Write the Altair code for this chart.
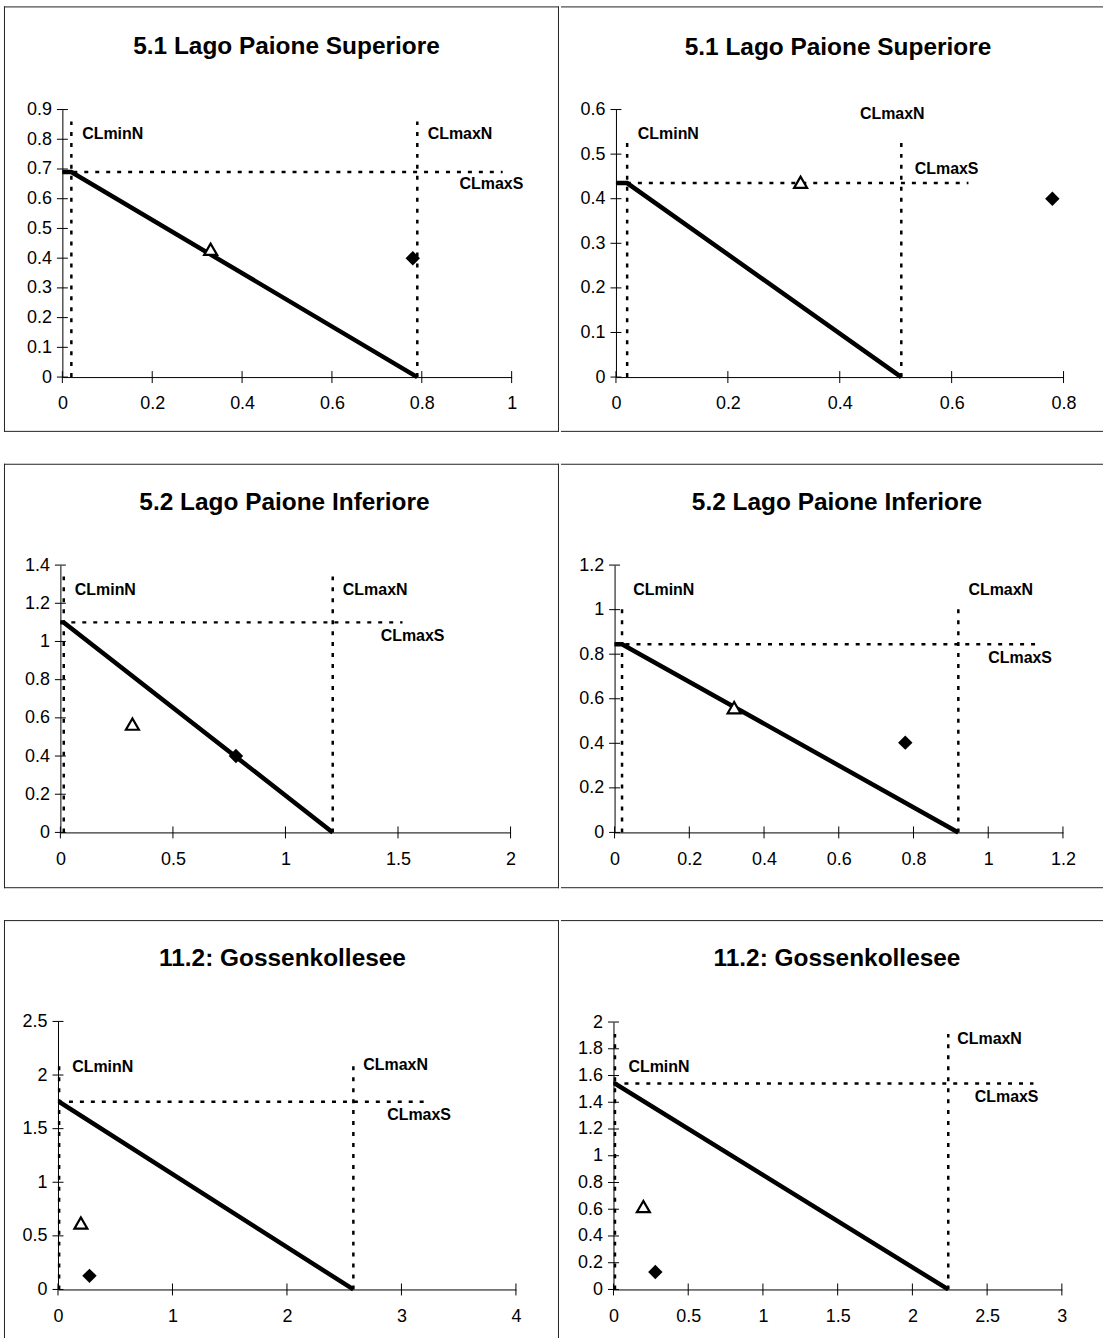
import altair as alt
import pandas as pd

FONT = "Liberation Sans"

# ---- chart content -------------------------------------------------------
titles = [
    "5.1 Lago Paione Superiore",
    "5.1 Lago Paione Superiore",
    "5.2 Lago Paione Inferiore",
    "5.2 Lago Paione Inferiore",
    "11.2: Gossenkollesee",
    "11.2: Gossenkollesee",
]

x_max = [1, 0.8, 2, 1.2, 4, 3]
y_max = [0.9, 0.6, 1.4, 1.2, 2.5, 2]

x_ticks = [
    [0, 0.2, 0.4, 0.6, 0.8, 1],
    [0, 0.2, 0.4, 0.6, 0.8],
    [0, 0.5, 1, 1.5, 2],
    [0, 0.2, 0.4, 0.6, 0.8, 1, 1.2],
    [0, 1, 2, 3, 4],
    [0, 0.5, 1, 1.5, 2, 2.5, 3],
]
y_ticks = [
    [0, 0.1, 0.2, 0.3, 0.4, 0.5, 0.6, 0.7, 0.8, 0.9],
    [0, 0.1, 0.2, 0.3, 0.4, 0.5, 0.6],
    [0, 0.2, 0.4, 0.6, 0.8, 1, 1.2, 1.4],
    [0, 0.2, 0.4, 0.6, 0.8, 1, 1.2],
    [0, 0.5, 1, 1.5, 2, 2.5],
    [0, 0.2, 0.4, 0.6, 0.8, 1, 1.2, 1.4, 1.6, 1.8, 2],
]

# critical loads: minimum N, maximum N, maximum S
cl_min_n = [0.02, 0.02, 0.015, 0.02, 0.01, 0.01]
cl_max_n = [0.79, 0.51, 1.21, 0.92, 2.58, 2.24]
cl_max_s = [0.69, 0.435, 1.10, 0.845, 1.75, 1.54]
# extent of the dotted guide lines
guide_top = [0.86, 0.54, 1.34, 1.015, 2.14, 1.91]
guide_end = [0.98, 0.63, 1.52, 1.135, 3.23, 2.81]

# deposition points (open triangle, filled diamond)
tri_x = [0.33, 0.33, 0.32, 0.32, 0.20, 0.20]
tri_y = [0.43, 0.437, 0.567, 0.56, 0.62, 0.62]
dia_x = [0.78, 0.78, 0.78, 0.778, 0.275, 0.28]
dia_y = [0.40, 0.40, 0.40, 0.403, 0.127, 0.13]

# annotation anchors (data units)
lab_min_n = [(0.044, 0.816), (0.039, 0.545), (0.064, 1.27), (0.05, 1.09), (0.124, 2.076), (0.10, 1.665)]
lab_max_n = [(0.813, 0.819), (0.436, 0.589), (1.255, 1.27), (0.947, 1.09), (2.667, 2.09), (2.30, 1.876)]
lab_max_s = [(0.884, 0.648), (0.534, 0.466), (1.423, 1.027), (1.0, 0.784), (2.875, 1.626), (2.417, 1.441)]

# ---- panel geometry (pixels) --------------------------------------------
panel_w = [557, 544, 557, 544, 557, 544]
panel_h = [427, 427, 426, 426, 422, 422]
x_px = [(58.6, 509.5), (55.2, 504.4), (56.6, 508.4), (53.8, 503.8), (54.2, 513.8), (52.7, 502.7)]
y_px = [(372, 103.5), (372, 103.5), (370, 101.7), (370, 101.7), (370.7, 101.7), (370.7, 102.3)]
title_dx = [5, 6, 3, 5, 1, 5]
title_offset = [-73, -73, -71, -71, -71, -71]

one = pd.DataFrame({"k": [0]})


def edge_h(y, x0, x1):
    return alt.Chart(one).mark_rule(color="#222", strokeWidth=1).encode(
        x=alt.value(x0), x2=alt.value(x1), y=alt.value(y)
    )


def edge_v(x, y0, y1):
    return alt.Chart(one).mark_rule(color="#222", strokeWidth=1).encode(
        x=alt.value(x), y=alt.value(y0), y2=alt.value(y1)
    )


def panel(i):
    w, h = panel_w[i], panel_h[i]
    col, row = i % 2, i // 2

    xs = alt.Scale(domain=[0, x_max[i]], range=list(x_px[i]), nice=False, zero=False)
    ys = alt.Scale(domain=[0, y_max[i]], range=list(y_px[i]), nice=False, zero=False)
    common = dict(
        title=None, ticks=False, tickSize=0, grid=False,
        domainColor="black", domainWidth=1,
        labelFont=FONT, labelFontSize=18, labelColor="black",
        labelFlush=False, labelOverlap=False, format="~g",
    )
    ax = alt.Axis(values=x_ticks[i], offset=y_px[i][0] - h, labelPadding=18, **common)
    ay = alt.Axis(values=y_ticks[i], offset=-x_px[i][0], labelPadding=11, **common)
    X = alt.X("x:Q", scale=xs, axis=ax)
    Y = alt.Y("y:Q", scale=ys, axis=ay)

    layers = []
    # panel frame
    layers.append(edge_h(0.5, 0, w))
    if row < 2:
        layers.append(edge_h(h - 0.5, 0, w))
    if col == 0:
        layers.append(edge_v(0.5, 0, h))
        layers.append(edge_v(w - 0.5, 0, h))

    dash = dict(color="black", strokeWidth=2.5, strokeDash=[4, 7])
    vert = pd.DataFrame({"x": [cl_min_n[i], cl_max_n[i]], "y": [0, 0],
                         "y2": [guide_top[i], guide_top[i]]})
    horiz = pd.DataFrame({"x": [0], "x2": [guide_end[i]], "y": [cl_max_s[i]]})
    layers.append(alt.Chart(vert).mark_rule(**dash).encode(x=X, y=Y, y2=alt.Y2("y2:Q")))
    layers.append(alt.Chart(horiz).mark_rule(**dash).encode(x=X, x2=alt.X2("x2:Q"), y=Y))

    # critical load function
    clf = pd.DataFrame({
        "x": [0, cl_min_n[i], cl_max_n[i]],
        "y": [cl_max_s[i], cl_max_s[i], 0],
        "o": [0, 1, 2],
    })
    layers.append(alt.Chart(clf).mark_line(color="black", strokeWidth=4.5).encode(
        x=X, y=Y, order="o:Q"))

    # cross-shaped axis ticks
    xt = pd.DataFrame({"x": x_ticks[i], "y": [0] * len(x_ticks[i])})
    yt = pd.DataFrame({"x": [0] * len(y_ticks[i]), "y": y_ticks[i]})
    tick = dict(filled=False, color="black", strokeWidth=1, opacity=1)
    layers.append(alt.Chart(xt).mark_point(shape="M0,-1L0,1", size=144, **tick).encode(x=X, y=Y))
    layers.append(alt.Chart(yt).mark_point(shape="M-1,0L1,0", size=121, **tick).encode(x=X, y=Y))

    # deposition points
    tri = pd.DataFrame({"x": [tri_x[i]], "y": [tri_y[i]]})
    dia = pd.DataFrame({"x": [dia_x[i]], "y": [dia_y[i]]})
    layers.append(alt.Chart(tri).mark_point(
        shape="triangle-up", size=170, filled=True, fill="white",
        stroke="black", strokeWidth=2.2, opacity=1).encode(x=X, y=Y))
    layers.append(alt.Chart(dia).mark_point(
        shape="diamond", size=210, filled=True, color="black", opacity=1).encode(x=X, y=Y))

    # annotations
    labels = pd.DataFrame({
        "x": [lab_min_n[i][0], lab_max_n[i][0], lab_max_s[i][0]],
        "y": [lab_min_n[i][1], lab_max_n[i][1], lab_max_s[i][1]],
        "t": ["CLminN", "CLmaxN", "CLmaxS"],
    })
    layers.append(alt.Chart(labels).mark_text(
        font=FONT, fontSize=16, fontWeight="bold", align="left",
        baseline="middle", color="black").encode(x=X, y=Y, text="t:N"))

    return alt.layer(*layers).properties(
        width=w, height=h,
        title=alt.TitleParams(
            text=titles[i], font=FONT, fontSize=24.5, fontWeight="bold",
            color="black", anchor="middle", frame="group",
            baseline="alphabetic", offset=title_offset[i], dx=title_dx[i],
        ),
    )


rows = [alt.hconcat(panel(2 * r), panel(2 * r + 1), spacing=0) for r in range(3)]
chart = (
    alt.vconcat(*rows, spacing=30)
    .properties(padding={"left": 3, "top": 3, "right": 0, "bottom": 0}, background="white")
    .configure_view(strokeWidth=0)
)

chart.save("out.html", embed_options={"renderer": "svg", "actions": False})
